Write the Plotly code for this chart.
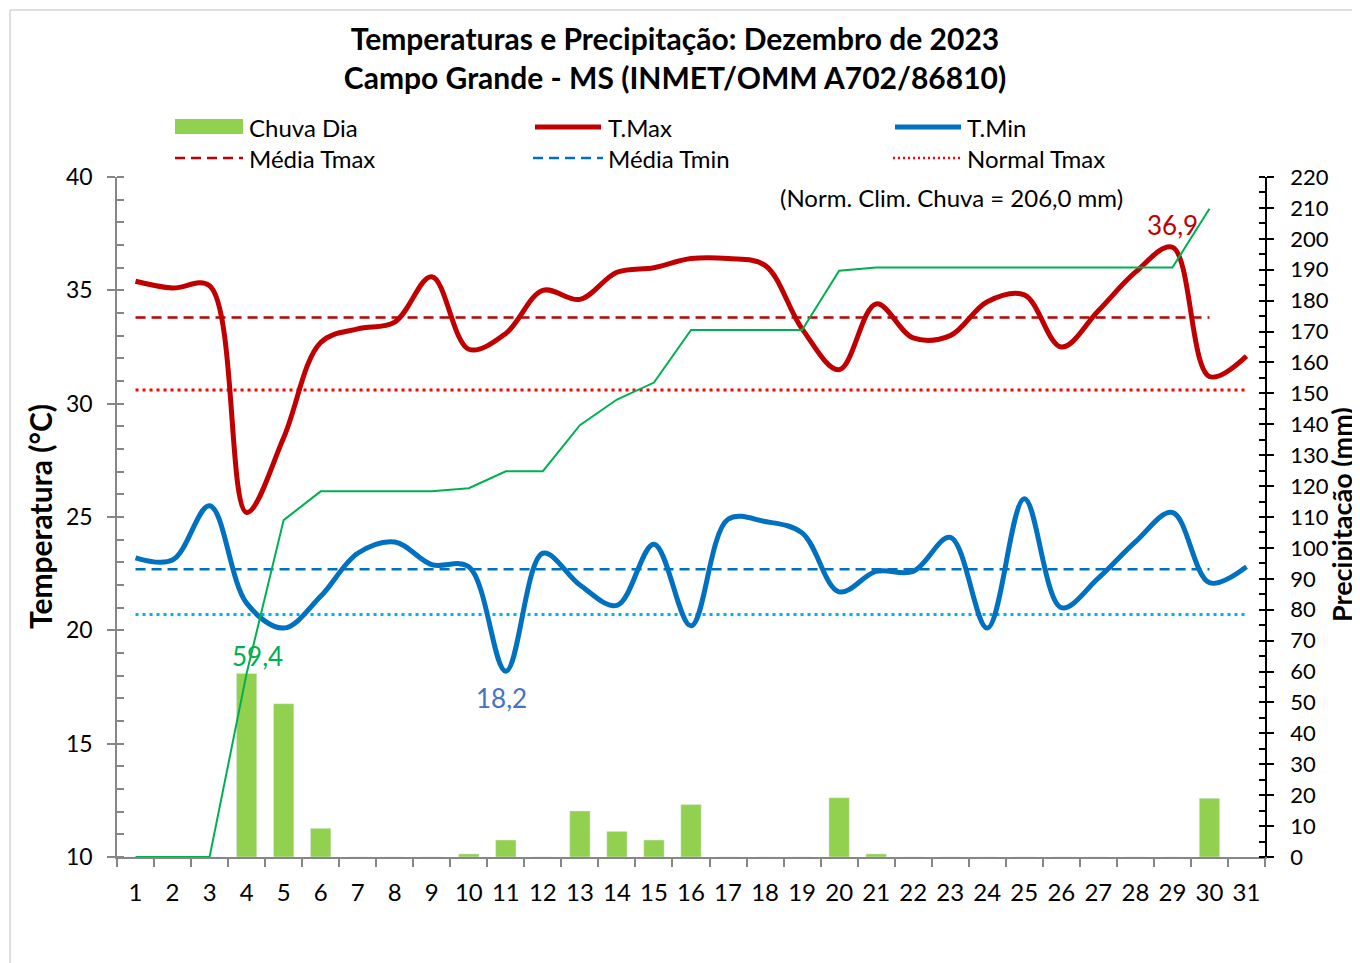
import plotly.graph_objects as go
import numpy as np

# ---------------- data ----------------
days = list(range(1, 32))
tmax = [35.4, 35.1, 35.2, 25.2, 28.5, 32.7, 33.3, 33.6, 35.6, 32.4,
        33.1, 35.0, 34.6, 35.8, 36.0, 36.4, 36.4, 36.1, 33.3, 31.5,
        34.4, 32.9, 33.0, 34.5, 34.8, 32.5, 34.1, 35.8, 36.9, 31.2, 32.1]
tmin = [23.2, 23.1, 25.5, 21.2, 20.1, 21.5, 23.4, 23.9, 22.9, 22.8,
        18.2, 23.4, 22.0, 21.1, 23.8, 20.2, 24.9, 24.8, 24.3, 21.7,
        22.6, 22.6, 24.1, 20.1, 25.8, 21.0, 22.3, 23.9, 25.2, 22.1, 22.8]
rain_days = list(range(1, 31))
chuva = [0, 0, 0, 59.4, 49.6, 9.3, 0, 0, 0, 1.0,
         5.5, 0, 14.9, 8.3, 5.5, 17.0, 0, 0, 0, 19.2,
         1.0, 0, 0, 0, 0, 0, 0, 0, 0, 19.0]
chuva_acum = list(np.round(np.cumsum(chuva), 1))
media_tmax = 33.8
media_tmin = 22.7
normal_tmax = 30.6
normal_tmin = 20.7
xticks = [str(d) for d in days]

# ---------------- styling ----------------
FONT = "Lato"
RED = "#c00000"
BLUE = "#0070c0"
BAR = "#92d050"
GREEN = "#00b050"

OFF = 8                      # page body margin
W, H = 1360 - OFF, 963 - OFF
# plot area in screenshot pixels
L, R, T, B = 117, 1265, 177, 857


def px(x):
    return (x - L) / (R - L)


def py(y):
    return (B - y) / (B - T)


fig = go.Figure()

fig.add_trace(go.Bar(x=rain_days, y=chuva, yaxis="y2", marker_color=BAR,
                     width=0.55, name="Chuva Dia", showlegend=False))
fig.add_trace(go.Scatter(x=rain_days, y=chuva_acum, yaxis="y2", mode="lines",
                         line=dict(color=GREEN, width=2), showlegend=False,
                         name="Chuva Acum."))

fig.add_trace(go.Scatter(x=[days[0], days[-2]], y=[media_tmax, media_tmax], mode="lines",
                         line=dict(color=RED, width=2.5, dash="10px,6px"), showlegend=False))
fig.add_trace(go.Scatter(x=[days[0], days[-2]], y=[media_tmin, media_tmin], mode="lines",
                         line=dict(color=BLUE, width=2.5, dash="10px,6px"), showlegend=False))
fig.add_trace(go.Scatter(x=[days[0], days[-1]], y=[normal_tmax, normal_tmax], mode="lines",
                         line=dict(color="#ff0000", width=3, dash="3px,4px"), showlegend=False))
fig.add_trace(go.Scatter(x=[days[0], days[-1]], y=[normal_tmin, normal_tmin], mode="lines",
                         line=dict(color="#00b0f0", width=3, dash="3px,4px"), showlegend=False))

fig.add_trace(go.Scatter(x=days, y=tmin, mode="lines", line_shape="spline",
                         line=dict(color=BLUE, width=5, smoothing=1.0), showlegend=False,
                         name="T.Min"))
fig.add_trace(go.Scatter(x=days, y=tmax, mode="lines", line_shape="spline",
                         line=dict(color=RED, width=5, smoothing=1.0), showlegend=False,
                         name="T.Max"))

# ---------------- manual legend ----------------
shapes = []
annotations = []
row1, row2 = 127, 158
shapes.append(dict(type="rect", xref="paper", yref="paper",
                   x0=px(175), x1=px(243), y0=py(134), y1=py(119),
                   fillcolor=BAR, line=dict(width=0)))
shapes.append(dict(type="line", xref="paper", yref="paper",
                   x0=px(535), x1=px(601), y0=py(row1), y1=py(row1),
                   line=dict(color=RED, width=5)))
shapes.append(dict(type="line", xref="paper", yref="paper",
                   x0=px(895), x1=px(961), y0=py(row1), y1=py(row1),
                   line=dict(color=BLUE, width=5)))
shapes.append(dict(type="line", xref="paper", yref="paper",
                   x0=px(175), x1=px(243), y0=py(row2), y1=py(row2),
                   line=dict(color=RED, width=2.5, dash="10px,6px")))
shapes.append(dict(type="line", xref="paper", yref="paper",
                   x0=px(533), x1=px(603), y0=py(row2), y1=py(row2),
                   line=dict(color=BLUE, width=2.5, dash="10px,6px")))
shapes.append(dict(type="line", xref="paper", yref="paper",
                   x0=px(893), x1=px(963), y0=py(row2), y1=py(row2),
                   line=dict(color="#ff0000", width=2.5, dash="2px,3px")))
labels = [("Chuva Dia", 247, row1), ("T.Max", 606, row1), ("T.Min", 965, row1),
          ("Média Tmax", 247, row2), ("Média Tmin", 606, row2), ("Normal Tmax", 965, row2)]
for txt, x, y in labels:
    annotations.append(dict(text=txt, xref="paper", yref="paper", x=px(x), y=py(y),
                            xanchor="left", yanchor="middle", showarrow=False,
                            font=dict(family=FONT, size=24, color="black")))

# chart border (partially visible)
shapes.append(dict(type="rect", xref="paper", yref="paper",
                   x0=px(10), x1=px(1500), y0=py(1100), y1=py(10),
                   line=dict(color="#bfbfbf", width=1), fillcolor="rgba(0,0,0,0)",
                   layer="below"))

# value annotations
annotations.append(dict(text="59,4", x=4, y=chuva[3], yref="y2", xref="x", showarrow=False,
                        xshift=11, yshift=17, font=dict(family=FONT, size=26, color=GREEN)))
annotations.append(dict(text="18,2", x=11, y=min(tmin), yref="y", xref="x", showarrow=False,
                        xshift=-4, yshift=-27, font=dict(family=FONT, size=26, color="#4472c4")))
annotations.append(dict(text="36,9", x=29, y=max(tmax), yref="y", xref="x", showarrow=False,
                        xshift=0, yshift=22, font=dict(family=FONT, size=26, color=RED)))
annotations.append(dict(text="(Norm. Clim. Chuva = 206,0 mm)", xref="paper", yref="paper",
                        x=px(951), y=py(197), xanchor="center", yanchor="middle",
                        showarrow=False, font=dict(family=FONT, size=24, color="black")))
# axis titles
annotations.append(dict(text="<b>Temperatura (°C)</b>", xref="paper", yref="paper",
                        x=px(40), y=py(517), xanchor="center", yanchor="middle",
                        textangle=-90, showarrow=False,
                        font=dict(family=FONT, size=30, color="black")))
annotations.append(dict(text="<b>Precipitação (mm)</b>", xref="paper", yref="paper",
                        x=px(1341), y=py(514), xanchor="center", yanchor="middle",
                        textangle=-90, showarrow=False,
                        font=dict(family=FONT, size=27, color="black")))

fig.update_layout(
    width=W, height=H,
    margin=dict(l=L - OFF, r=W - (R - OFF), t=T - OFF, b=H - (B - OFF)),
    paper_bgcolor="white", plot_bgcolor="white",
    font=dict(family=FONT, size=23, color="black"),
    title=dict(text="<b>Temperaturas e Precipitação: Dezembro de 2023<br>"
                    "Campo Grande - MS (INMET/OMM A702/86810)</b>",
               x=(675 - OFF) / W, xanchor="center", y=1 - 42 / H, yanchor="middle",
               font=dict(family=FONT, size=30, color="black")),
    showlegend=False,
    bargap=0.45,
    xaxis=dict(range=[0.5, 31.5], tickmode="array", tickvals=days, ticktext=xticks,
               ticks="", showline=True, linecolor="#868686", linewidth=1.5,
               showgrid=False, zeroline=False, ticklabelstandoff=13,
               minor=dict(tick0=0.5, dtick=1, ticks="outside", ticklen=8,
                          tickcolor="#868686", tickwidth=1.5),
               tickfont=dict(family=FONT, size=24, color="black")),
    yaxis=dict(range=[10, 40], dtick=5, tick0=10, ticks="outside", ticklen=8,
               tickcolor="#868686", tickwidth=1.5, showline=True, linecolor="#868686",
               linewidth=1.5, showgrid=False, zeroline=False, ticklabelstandoff=10,
               minor=dict(dtick=1, ticks="inside", ticklen=7, tickcolor="#868686",
                          tickwidth=1.5),
               tickfont=dict(family=FONT, size=23, color="black")),
    yaxis2=dict(range=[0, 220], dtick=10, tick0=0, overlaying="y", side="right",
                ticks="outside", ticklen=7, tickcolor="black", tickwidth=1.5,
                showline=True, linecolor="black", linewidth=1.5, showgrid=False,
                zeroline=False, ticklabelstandoff=12,
                minor=dict(dtick=5, ticks="inside", ticklen=6, tickcolor="black",
                           tickwidth=1.5),
                tickfont=dict(family=FONT, size=22, color="black")),
    shapes=shapes,
    annotations=annotations,
)

fig.write_html("out.html")
